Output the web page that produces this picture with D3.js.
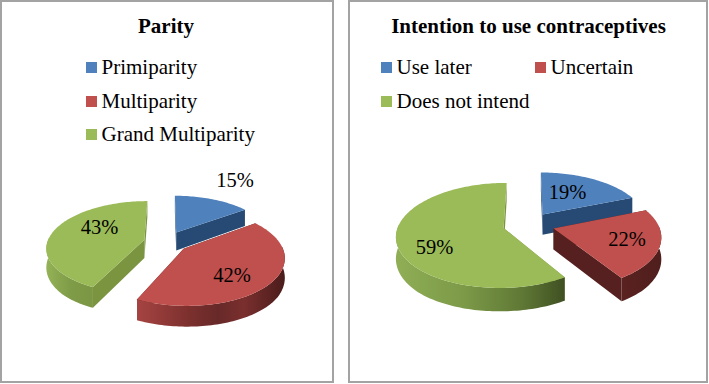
<!DOCTYPE html>
<html><head><meta charset="utf-8">
<script src="https://cdn.jsdelivr.net/npm/d3@7"></script>
<style>html,body{margin:0;padding:0;background:#fff}svg{display:block}text{font-family:"Liberation Serif",serif;fill:#000}</style>
</head><body><svg id="c" width="709" height="384"></svg>
<script>
const parityTitle = "Parity";
const parityCategories = ["Primiparity","Multiparity","Grand Multiparity"];
const parityValues = [15,42,43];
const intentionTitle = "Intention to use contraceptives";
const intentionCategories = ["Use later","Uncertain","Does not intend"];
const intentionValues = [19,22,59];
const colors = ["#4f81bd","#c0504d","#9bbb59"];
const sideColors = ["#264a73","#55201f","#7b9440"];
const outerStops = [
  [["#4a76ab",0],["#3c618e",1]],
  [["#a64442",0],["#7c302e",.35],["#672928",.55],["#7a2f2e",.72],["#4a1c1b",1]],
  [["#94b256",0],["#7f9c48",.5],["#7b9644",1]]
];
const outerStopsGreenDark = [["#8fae55",0],["#7c9a48",.4],["#5f7835",.75],["#3f5022",1]];
const outerStopsRedDark = [["#5a2220",0],["#4f1e1d",1]];

const panels = [
 {title:parityTitle,cats:parityCategories,vals:parityValues,box:[1,1,332,381],titleX:166,
  cx:166,cy:242,rx:97,k:45.5,p:.16,depth:19.5,explode:[.24,.23,.23],
  legend:[[86,62],[86,96],[86,129]],labels:[[235,187],[232,282],[99.5,234]],
  stops:[outerStops[0],outerStops[1],outerStops[2]]},
 {title:intentionTitle,cats:intentionCategories,vals:intentionValues,box:[349,1,358,381],titleX:528.5,
  cx:528.5,cy:224.5,rx:105,k:50.5,p:.14,depth:22,explode:[.245,.248,.245],
  legend:[[381,62],[535,62],[381,96]],labels:[[567.5,199],[627,246],[434.5,254]],
  stops:[outerStops[0],outerStopsRedDark,outerStopsGreenDark]}
];

const svg = d3.select("#c");
const defs = svg.append("defs");
const pieGen = d3.pie().sort(null).startAngle(0).endAngle(2*Math.PI);
const lineGen = d3.line().curve(d3.curveLinear);

panels.forEach((P,pi)=>{
  const g = svg.append("g");
  g.append("rect").attr("x",P.box[0]).attr("y",P.box[1]).attr("width",P.box[2]).attr("height",P.box[3])
    .attr("fill","#fff").attr("stroke","#a3a3a3").attr("stroke-width",2);
  g.append("text").attr("x",P.titleX).attr("y",33).attr("text-anchor","middle")
    .attr("font-size",21).attr("font-weight","bold").text(P.title);
  P.cats.forEach((c,i)=>{
    const [lx,ly]=P.legend[i];
    g.append("rect").attr("x",lx).attr("y",ly).attr("width",11).attr("height",11).attr("fill",colors[i]);
    g.append("text").attr("x",lx+15.5).attr("y",ly+12).attr("font-size",21).text(c);
  });
  const project=(u,v)=>{const s=1/(1-P.p*v);return [P.cx+u*P.rx*s, P.cy+v*P.k*s, s];};
  const arcs = pieGen(P.vals);
  const order = [0,2,1];
  order.forEach(i=>{
    const a=arcs[i], mid=(a.startAngle+a.endAngle)/2, e=P.explode[i];
    const ox=Math.sin(mid)*e, oy=-Math.cos(mid)*e;
    const at=(r,t)=>project(ox+r*Math.sin(t),oy-r*Math.cos(t));
    const n2=Math.ceil((a.endAngle-a.startAngle)*40);
    const ts=d3.range(n2+1).map(j=>a.startAngle+(a.endAngle-a.startAngle)*j/n2);
    const rim=ts.map(t=>at(1,t));
    const apex=at(0,0);
    const down=q=>[q[0],q[1]+P.depth*Math.min(q[2],1.12)*.95];
    const xy=q=>[q[0],q[1]];
    [rim[0],rim[rim.length-1]].forEach(q=>{
      g.append("path").attr("d",lineGen([xy(apex),xy(q),down(q),down(apex)])+"Z").attr("fill",sideColors[i]);
    });
    const front=ts.filter(t=>Math.cos(t)<0.08).map(t=>at(1,t));
    if(front.length>1){
      const xs=front.map(q=>q[0]);
      const id=`w${pi}${i}`;
      const lg=defs.append("linearGradient").attr("id",id).attr("gradientUnits","userSpaceOnUse")
        .attr("x1",d3.min(xs)).attr("x2",d3.max(xs)).attr("y1",0).attr("y2",0);
      P.stops[i].forEach(s=>lg.append("stop").attr("offset",s[1]).attr("stop-color",s[0]));
      g.append("path").attr("d",lineGen(front.map(xy).concat(front.map(down).reverse()))+"Z").attr("fill",`url(#${id})`);
    }
    g.append("path").attr("d",lineGen([xy(apex)].concat(rim.map(xy)))+"Z").attr("fill",colors[i]);
  });
  P.vals.forEach((v,i)=>{
    g.append("text").attr("x",P.labels[i][0]).attr("y",P.labels[i][1]).attr("text-anchor","middle")
      .attr("font-size",20.5).text(v+"%");
  });
});
</script></body></html>
